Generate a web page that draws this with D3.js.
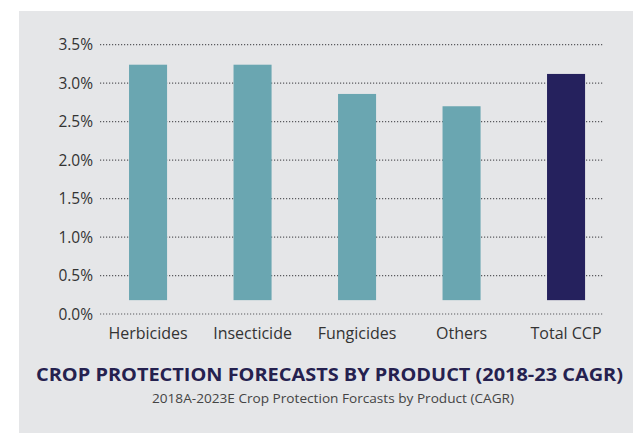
<!DOCTYPE html>
<html>
<head>
<meta charset="utf-8">
<script src="https://cdn.jsdelivr.net/npm/d3@7"></script>
<style>
  html, body { margin: 0; padding: 0; background: #ffffff; }
  svg { display: block; font-family: "Open Sans", "Noto Sans", sans-serif; }
</style>
</head>
<body>
<svg id="chart" width="633" height="433"></svg>
<script>
// Crop protection CAGR by product, 2018A-2023E (percent)
const categories = ["Herbicides", "Insecticide", "Fungicides", "Others", "Total CCP"];
const cagr = [3.24, 3.24, 2.86, 2.70, 3.12];
const yTicks = [0, 0.5, 1.0, 1.5, 2.0, 2.5, 3.0, 3.5];
const yTickLabels = ["0.0%", "0.5%", "1.0%", "1.5%", "2.0%", "2.5%", "3.0%", "3.5%"];
const barBase = 0.18; // bars rise from just above the zero line

const title = "CROP PROTECTION FORECASTS BY PRODUCT (2018-23 CAGR)";
const subtitle = "2018A-2023E Crop Protection Forcasts by Product (CAGR)";

const svg = d3.select("#chart");

// grey panel behind the chart
svg.append("rect")
  .attr("x", 19).attr("y", 11)
  .attr("width", 633 - 19).attr("height", 433 - 11)
  .attr("fill", "#e5e6e8");

const y = d3.scaleLinear().domain([0, 3.5]).range([314, 44.7]);
const x = d3.scaleBand()
  .domain(categories)
  .range([95.8, 618.3])
  .paddingInner(0.636)
  .paddingOuter(0.318);

// dotted gridlines
svg.append("g")
  .selectAll("line")
  .data(yTicks)
  .join("line")
  .attr("x1", 100).attr("x2", 604)
  .attr("y1", d => y(d)).attr("y2", d => y(d))
  .attr("stroke", "#5a5a5e")
  .attr("stroke-width", 1.2)
  .attr("stroke-dasharray", "1.2,1.8");

// y tick labels
svg.append("g")
  .selectAll("text")
  .data(yTicks)
  .join("text")
  .attr("x", 93)
  .attr("y", d => y(d))
  .attr("dy", "0.36em")
  .attr("text-anchor", "end")
  .attr("font-size", 15.5)
  .attr("fill", "#333333")
  .text((d, i) => yTickLabels[i]);

// bars
svg.append("g")
  .selectAll("rect")
  .data(categories)
  .join("rect")
  .attr("x", d => x(d))
  .attr("width", x.bandwidth())
  .attr("y", (d, i) => y(cagr[i]))
  .attr("height", (d, i) => y(barBase) - y(cagr[i]))
  .attr("fill", (d, i) => i === categories.length - 1 ? "#25215d" : "#6aa6b1");

// category labels
svg.append("g")
  .selectAll("text")
  .data(categories)
  .join("text")
  .attr("x", d => x(d) + x.bandwidth() / 2)
  .attr("y", 339)
  .attr("text-anchor", "middle")
  .attr("font-size", 16)
  .attr("fill", "#333333")
  .text(d => d);

// title and subtitle
svg.append("text")
  .attr("x", 329.5).attr("y", 381)
  .attr("text-anchor", "middle")
  .attr("font-size", 17)
  .attr("font-weight", 700)
  .attr("fill", "#25214f")
  .attr("textLength", 587)
  .attr("lengthAdjust", "spacingAndGlyphs")
  .text(title);

svg.append("text")
  .attr("x", 333).attr("y", 403)
  .attr("text-anchor", "middle")
  .attr("font-size", 12.5)
  .attr("fill", "#444444")
  .attr("textLength", 362)
  .attr("lengthAdjust", "spacingAndGlyphs")
  .text(subtitle);
</script>
</body>
</html>
